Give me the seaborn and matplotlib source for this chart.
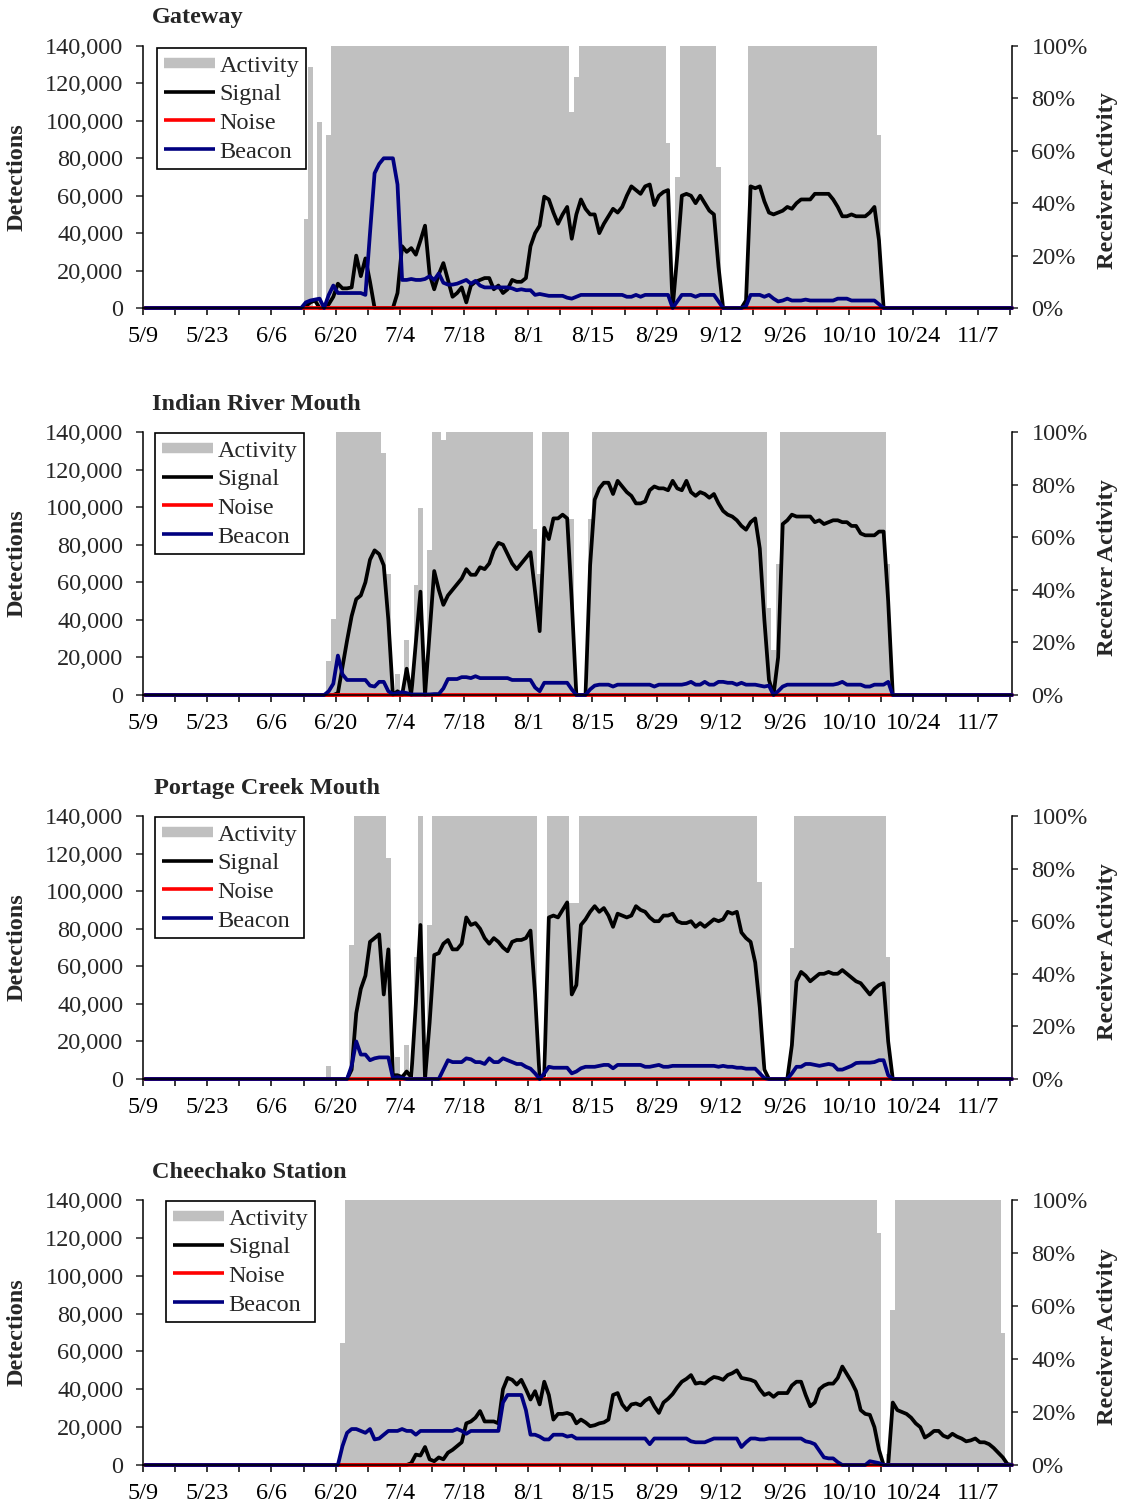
import matplotlib
matplotlib.use("Agg")
import matplotlib.pyplot as plt
from matplotlib.lines import Line2D
from matplotlib.ticker import FuncFormatter
import numpy as np
import pandas as pd
import seaborn as sns

# ---------------------------------------------------------------- data
N_DAYS = 190  # daily values, 5/9 .. 11/14
TICK_LABELS = ["5/9", "5/23", "6/6", "6/20", "7/4", "7/18", "8/1", "8/15",
               "8/29", "9/12", "9/26", "10/10", "10/24", "11/7"]
SITES = ["Gateway", "Indian River Mouth", "Portage Creek Mouth", "Cheechako Station"]
SERIES = ["Signal", "Noise", "Beacon"]

# Receiver activity (% of day)
GATEWAY_ACTIVITY = ([0] * 35 + [34, 92, 0, 71, 0, 66] + [100] * 52 + [75, 88] + [100] * 19
                    + [63, 0, 50] + [100] * 8 + [54] + [0] * 6 + [100] * 28 + [66] + [0] * 29)
# detections, thousands
GATEWAY_SIGNAL = ([0] * 35
                  + [1, 3, 4, 0, 0, 2, 6, 13, 10.5, 10.5]
                  + [11, 28, 17, 26.5, 14, 0, 0, 0, 0, 0]
                  + [8, 33, 30, 32, 28.5, 36, 44, 18, 10, 18]
                  + [24, 15, 6, 8, 11, 3, 12, 14, 15, 16]
                  + [16, 10, 12, 8, 10, 15, 14, 14, 16, 33]
                  + [40, 44, 59.5, 58, 51, 45, 50, 54, 37, 50]
                  + [58, 53, 50, 50, 40, 45, 49, 53, 51, 54]
                  + [60, 65, 63, 61, 65, 66, 55, 60, 62, 63]
                  + [0, 28, 60, 61, 60, 56, 60, 56, 52, 50]
                  + [22] + [0] * 5
                  + [4, 65, 64, 65, 57, 51, 50, 51, 52, 54]
                  + [53, 56, 58, 58, 58, 61, 61, 61, 61, 58]
                  + [54, 49, 49, 50, 49, 49, 49, 51, 54, 36]
                  + [0] * 29)
GATEWAY_NOISE = [0] * N_DAYS
GATEWAY_BEACON = ([0] * 35
                  + [3, 4, 4.5, 5, 0, 7, 12, 8, 8, 8]
                  + [8, 8, 8, 7, 40, 72, 77, 80, 80, 80]
                  + [66, 15, 15, 15.5, 15, 15, 15.5, 17, 15, 18.5]
                  + [13.5, 12.5, 12.5, 13, 14, 15, 13, 14.5, 12, 11]
                  + [11, 11, 11, 11, 11, 10.5, 9.5, 10, 9.5, 9.5]
                  + [7, 7.5, 7, 6.5, 6.5, 6.5, 6.5, 5.5, 5, 6]
                  + [7, 7, 7, 7, 7, 7, 7, 7, 7, 7]
                  + [6, 6, 7, 6, 7, 7, 7, 7, 7, 7]
                  + [0, 3.5, 7, 7, 7, 6, 7, 7, 7, 7]
                  + [3.5] + [0] * 5
                  + [1, 7, 7, 7, 6, 7, 5, 3.5, 4, 5]
                  + [4, 4, 4, 4.5, 4, 4, 4, 4, 4, 4]
                  + [5, 5, 5, 4, 4, 4, 4, 4, 4, 2]
                  + [0] * 29)

INDIAN_ACTIVITY = ([0] * 40 + [13, 29] + [100] * 10
                   + [92, 46, 0, 8, 0, 21, 0, 42, 71, 0, 55, 100, 100, 97]
                   + [100] * 19 + [63, 46] + [100] * 6 + [67, 0, 0, 0, 67]
                   + [100] * 38 + [33, 17, 50] + [100] * 23 + [50] + [0] * 27)
INDIAN_SIGNAL = ([0] * 42
                 + [1, 15, 29, 42, 51, 53, 60, 72, 77, 75]
                 + [69, 40, 0, 2, 0, 14, 0, 28, 55, 0]
                 + [33, 66, 56, 48, 53, 56, 59, 62, 67, 64]
                 + [64, 68, 67, 70, 77, 81, 80, 75, 70, 67]
                 + [70, 73, 76, 55, 34, 89, 83, 94, 94, 96]
                 + [94, 50] + [0, 0, 0]
                 + [69, 104, 110, 113, 113, 107, 114, 111, 108, 106]
                 + [102, 102, 103, 109, 111, 110, 110, 109, 114, 110]
                 + [109, 114, 108, 106, 108, 107, 105, 107, 102, 98]
                 + [96, 95, 93, 90, 88, 92, 94, 78, 40, 8]
                 + [0, 20, 91, 93, 96, 95, 95, 95, 95, 92]
                 + [93, 91, 92, 93, 93, 92, 92, 90, 90, 86]
                 + [85, 85, 85, 87, 87, 50]
                 + [0] * 27)
INDIAN_NOISE = [0] * N_DAYS
INDIAN_BEACON = ([0] * 40
                 + [2, 6, 21, 11, 8, 8, 8, 8, 8, 5]
                 + [4.5, 7, 7, 2, 0.5, 1, 1.5, 1, 0.3, 0.3]
                 + [0.3, 0.3, 0.3, 0.5, 0.5, 3.5, 8.5, 8.5, 8.5, 9.5]
                 + [9.5, 9, 10, 9, 9, 9, 9, 9, 9, 9]
                 + [8, 8, 8, 8, 8, 4, 2, 6.5, 6.5, 6.5]
                 + [6.5, 6.5, 6.5, 3] + [0, 0, 0]
                 + [3, 5, 5.5, 5.5, 5.5, 4.5, 5.5, 5.5, 5.5, 5.5]
                 + [5.5, 5.5, 5.5, 5.5, 4.5, 5.5, 5.5, 5.5, 5.5, 5.5]
                 + [5.5, 6, 7, 5.5, 5.5, 7, 5.5, 5.5, 7, 7]
                 + [6.5, 6.5, 5.5, 6.5, 5.5, 5.5, 5.5, 5, 4.5, 5]
                 + [0, 2, 4.5, 5.5, 5.5, 5.5, 5.5, 5.5, 5.5, 5.5]
                 + [5.5, 5.5, 5.5, 5.5, 6, 7, 5.5, 5.5, 5.5, 5.5]
                 + [4.5, 4.5, 5.5, 5.5, 5.5, 7]
                 + [0] * 27)

PORTAGE_ACTIVITY = ([0] * 40 + [5, 0, 0, 0, 0, 51] + [100] * 7
                    + [84, 0, 8.5, 0, 13, 0, 46.5, 100, 0, 58.6]
                    + [100] * 23 + [0, 0] + [100] * 5 + [67, 67] + [100] * 39
                    + [75] + [0] * 6 + [50] + [100] * 20 + [46.5] + [0] * 27)
PORTAGE_SIGNAL = ([0] * 45
                  + [5, 35, 48, 55, 73, 75, 77, 45, 69, 2]
                  + [2, 1, 4, 1, 40, 82, 0, 30, 66, 67]
                  + [72, 74, 69, 69, 72, 86, 82, 83, 80, 75]
                  + [72, 75, 73, 70, 68, 73, 74, 74, 75, 79]
                  + [45, 0, 2, 86, 87, 86, 90, 94, 45, 50]
                  + [82, 85, 89, 92, 89, 91, 87, 81, 88, 87]
                  + [86, 87, 92, 90, 89, 86, 84, 84, 87, 87]
                  + [88, 84, 83, 83, 84, 81, 83, 81, 83, 85]
                  + [84, 85, 89, 88, 89, 78, 75, 73, 62, 38]
                  + [5] + [0] * 5
                  + [18, 52, 57, 55, 52, 54, 56, 56, 57, 56]
                  + [56, 58, 56, 54, 52, 51, 48, 45, 48, 50]
                  + [51, 20]
                  + [0] * 27)
PORTAGE_NOISE = [0] * N_DAYS
PORTAGE_BEACON = ([0] * 45
                  + [7, 20, 13, 13, 10, 11, 11.5, 11.5, 11.5, 0.5, 1, 0.5]
                  + [0] * 8
                  + [5, 10, 9, 9, 9, 11, 10.5, 9, 9, 8]
                  + [11, 9, 9, 11, 10, 9, 8, 8, 6.5, 5.5]
                  + [3, 0, 3, 6.5, 6, 6, 6, 6, 3, 4]
                  + [5.7, 6.5, 6.5, 6.5, 7, 7.5, 7.5, 5.7, 7.5, 7.5]
                  + [7.5, 7.5, 7.5, 7.5, 6.5, 6.5, 7, 7.5, 6.5, 6.5]
                  + [7, 7, 7, 7, 7, 7, 7, 7, 7, 7]
                  + [6.5, 7, 6.5, 6.5, 6, 6, 5.5, 5.5, 5.5, 3]
                  + [0.5] + [0] * 5
                  + [3, 6.5, 6.5, 8, 8, 7.5, 7, 7.5, 8, 7.5]
                  + [5, 5, 6, 7, 8.5, 8.7, 8.7, 8.7, 9, 10]
                  + [10, 2]
                  + [0] * 27)

CHEECHAKO_ACTIVITY = ([0] * 43 + [46] + [100] * 116 + [87.5, 0, 4, 58.6]
                      + [100] * 23 + [50] + [0] * 2)
CHEECHAKO_SIGNAL = ([0] * 58
                    + [1, 5.5, 5, 9.5, 3, 2, 4, 3, 6.5, 8]
                    + [10, 12, 22, 23, 25, 28.5, 23, 23, 23, 22]
                    + [40, 46, 45, 42.5, 45, 40, 34.6, 39, 32, 44]
                    + [37, 24, 27, 27, 27.5, 26.5, 22, 24, 22.5, 20.5]
                    + [21, 22, 22.5, 24, 37, 38, 32, 29, 32, 32.5]
                    + [31.5, 34, 35.5, 31, 27.5, 33, 35, 37.5, 41, 44]
                    + [45.5, 47.5, 43, 43.5, 43, 45, 46.5, 46, 45, 47.5]
                    + [48.5, 50, 46, 45.5, 45, 44, 40, 37, 38, 36]
                    + [38, 38, 38, 42, 44, 44, 37, 31, 33, 40]
                    + [42, 43, 43, 46, 52, 48, 44, 39, 29, 27]
                    + [26.5, 20, 8] + [0, 0]
                    + [33, 29, 28, 27, 25, 22, 20, 14.5, 16, 18]
                    + [18, 15.5, 14.5, 16.5, 15, 14, 12.5, 13, 14, 12]
                    + [12, 11, 9, 6.5, 4, 0.5]
                    + [0])
CHEECHAKO_NOISE = [0] * N_DAYS
CHEECHAKO_BEACON = ([0] * 43
                    + [10, 17, 19, 19, 18, 17, 19, 13.5, 14, 16]
                    + [18, 18, 18, 19, 18, 18, 16, 18, 18, 18]
                    + [18, 18, 18, 18, 18, 19, 18, 16.5, 18, 18]
                    + [18, 18, 18, 18, 18, 33, 37, 37, 37, 37]
                    + [29, 16, 16, 15, 13.5, 13.5, 16, 16, 16, 15]
                    + [15.5, 14, 14, 14, 14, 14, 14, 14, 14, 14]
                    + [14, 14, 14, 14, 14, 14, 14, 11, 14, 14]
                    + [14, 14, 14, 14, 14, 14, 12.5, 12, 12, 12]
                    + [13, 14, 14, 14, 14, 14, 14, 9.5, 12, 14]
                    + [14, 13.5, 13.5, 14, 14, 14, 14, 14, 14, 14]
                    + [14, 12.5, 12, 11, 7.5, 4, 3.5, 3.5, 1.5, 0]
                    + [0, 0, 0, 0, 0, 2, 1.5, 1]
                    + [0] * 29)

PANEL_DATA = [
    (GATEWAY_ACTIVITY, GATEWAY_SIGNAL, GATEWAY_NOISE, GATEWAY_BEACON),
    (INDIAN_ACTIVITY, INDIAN_SIGNAL, INDIAN_NOISE, INDIAN_BEACON),
    (PORTAGE_ACTIVITY, PORTAGE_SIGNAL, PORTAGE_NOISE, PORTAGE_BEACON),
    (CHEECHAKO_ACTIVITY, CHEECHAKO_SIGNAL, CHEECHAKO_NOISE, CHEECHAKO_BEACON),
]
for name, arrs in zip(SITES, PANEL_DATA):
    for a in arrs:
        if len(a) != N_DAYS:
            raise ValueError(f"{name}: length {len(a)}")

# ---------------------------------------------------------------- style
sns.set_style("ticks")
plt.rcParams["font.family"] = ["Liberation Serif", "DejaVu Serif"]
plt.rcParams["axes.linewidth"] = 1.1

GRAY = "#C0C0C0"
COLORS = {"Signal": "#000000", "Noise": "#FF0000", "Beacon": "#000080"}
FS = 17.5

W, H = 1123, 1507
fig = plt.figure(figsize=(W / 100, H / 100), dpi=100)
fig.patch.set_facecolor("white")

AX_LEFT, AX_RIGHT = 143, 1012
# (axes top px, axes bottom px, legend left px, legend top px, title x px)
LAYOUT = [(46, 308, 157, 48, 152), (432, 695, 155, 433, 152),
          (816, 1079, 155, 817, 154), (1200, 1465, 166, 1201, 152)]

days = np.arange(N_DAYS)
XMIN, XMAX = -0.5, 189.0

for site, (act, sig, noi, bea), (top, bot, lx, ly, tx) in zip(SITES, PANEL_DATA, LAYOUT):
    ax = fig.add_axes([AX_LEFT / W, 1 - bot / H, (AX_RIGHT - AX_LEFT) / W, (bot - top) / H])
    ax2 = ax.twinx()

    # activity bars (secondary axis)
    ax2.bar(days, act, width=1.0, color=GRAY, edgecolor=GRAY, linewidth=0,
            align="center", antialiased=False)
    ax2.set_ylim(0, 100)

    # lines (primary axis)
    df = pd.DataFrame({
        "day": np.tile(days, 3),
        "count": np.concatenate([np.array(sig), np.array(noi), np.array(bea)]) * 1000.0,
        "series": np.repeat(SERIES, N_DAYS),
    })
    sns.lineplot(data=df, x="day", y="count", hue="series", hue_order=SERIES,
                 palette=COLORS, linewidth=2.7, legend=False, errorbar=None,
                 sort=False, ax=ax)
    for ln in ax.lines:
        ln.set_clip_on(False)
        ln.set_solid_joinstyle("round")

    ax.set_zorder(ax2.get_zorder() + 1)
    ax.patch.set_visible(False)

    ax.set_xlim(XMIN, XMAX)
    ax.set_ylim(0, 140000)
    ax.set_xlabel("")
    ax.set_ylabel("")
    ax2.set_ylabel("")

    ax.set_xticks([-0.5 + 14 * j for j in range(len(TICK_LABELS))], TICK_LABELS)
    ax.set_xticks([-0.5 + 7 * j for j in range(1, 28, 2)], minor=True)
    ax.set_yticks(range(0, 140001, 20000))
    ax.yaxis.set_major_formatter(FuncFormatter(lambda v, p: f"{int(v):,}"))
    ax2.set_yticks(range(0, 101, 20))
    ax2.yaxis.set_major_formatter(FuncFormatter(lambda v, p: f"{int(v)}%"))

    ax.tick_params(axis="x", which="both", direction="out", length=5, width=1.1,
                   pad=8, labelsize=FS, colors="black")
    ax.tick_params(axis="y", direction="out", length=5, width=1.1, pad=9, labelsize=FS)
    ax2.tick_params(axis="y", direction="out", length=4, width=1.1, pad=10, labelsize=FS)

    for s in ["top", "right"]:
        ax.spines[s].set_visible(False)
    for s in ["top", "left", "bottom"]:
        ax2.spines[s].set_visible(False)
    ax2.spines["right"].set_color("black")
    ax.spines["left"].set_color("black")
    ax.spines["bottom"].set_color("black")

    # legend
    handles = [Line2D([], [], color=GRAY, lw=7.5, solid_capstyle="butt")] + \
              [Line2D([], [], color=COLORS[s], lw=2.6, solid_capstyle="butt") for s in SERIES]
    leg = ax.legend(handles, ["Activity"] + SERIES, loc="upper left",
                    bbox_to_anchor=((lx - AX_LEFT) / (AX_RIGHT - AX_LEFT), 1 - (ly - top) / (bot - top)),
                    borderaxespad=0, frameon=True, fancybox=False, framealpha=1,
                    edgecolor="black", facecolor="white", fontsize=FS,
                    handlelength=2.1, handletextpad=0.2, borderpad=0.28,
                    labelspacing=0.27)
    leg.get_frame().set_linewidth(1.2)

    # texts
    fig.text(tx / W, 1 - (top - 28) / H, site, ha="left", va="center",
             fontsize=FS, fontweight="bold")
    mid = (top + bot) / 2
    fig.text(17 / W, 1 - mid / H, "Detections", rotation=90, ha="center", va="center",
             fontsize=FS, fontweight="bold")
    fig.text(1107 / W, 1 - (mid + 4) / H, "Receiver Activity", rotation=90, ha="center",
             va="center", fontsize=FS, fontweight="bold")

fig.savefig("out.png", dpi=100, facecolor="white")
